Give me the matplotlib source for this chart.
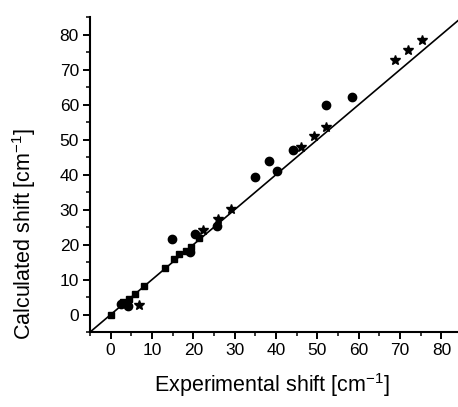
import matplotlib
matplotlib.use("Agg")
import matplotlib.pyplot as plt
from matplotlib.ticker import MultipleLocator

plt.rcParams['font.family'] = ['Liberation Sans', 'DejaVu Sans']

# squares (points lying on the diagonal)
sq_x = [0, 3.0, 4.5, 6.0, 8.0, 13.2, 15.4, 16.6, 18.2, 19.4, 21.3]
sq_y = [0, 3.5, 4.5, 6.0, 8.2, 13.4, 16.0, 17.3, 18.3, 19.4, 21.8]

# circles
ci_x = [2.6, 4.2, 14.8, 19.2, 20.5, 25.6, 34.9, 38.2, 40.2, 44.2, 52.1, 58.4]
ci_y = [3.0, 2.4, 21.7, 17.8, 23.0, 25.4, 39.2, 44.0, 41.0, 46.9, 59.9, 62.2]

# stars
st_x = [6.8, 22.3, 25.9, 29.2, 46.0, 49.2, 52.1, 68.7, 71.9, 75.3]
st_y = [2.8, 24.2, 27.3, 30.1, 47.9, 51.0, 53.6, 72.6, 75.7, 78.5]

fig = plt.figure(figsize=(4.58, 4.07), dpi=100)
ax = fig.add_axes([0.1965, 0.184, 0.8035, 0.774])

ax.plot([-5, 85], [-5, 85], color='black', linewidth=1.2, zorder=1)
ax.plot(sq_x, sq_y, 's', color='black', markersize=5, zorder=2)
ax.plot(ci_x, ci_y, 'o', color='black', markersize=6, zorder=2)
ax.plot(st_x, st_y, '*', color='black', markersize=7, zorder=2)

ax.set_xlim(-5, 84)
ax.set_ylim(-5, 85)
ax.xaxis.set_major_locator(MultipleLocator(10))
ax.xaxis.set_minor_locator(MultipleLocator(5))
ax.yaxis.set_major_locator(MultipleLocator(10))
ax.yaxis.set_minor_locator(MultipleLocator(5))

for s in ['top', 'right']:
    ax.spines[s].set_visible(False)
for s in ['left', 'bottom']:
    ax.spines[s].set_linewidth(1.5)

ax.tick_params(which='major', direction='out', length=5, width=1.4, labelsize=12.5, pad=3)
ax.tick_params(which='minor', direction='out', length=3, width=1.1)

ax.set_xlabel(r'Experimental shift [cm$^{\mathregular{-1}}$]', fontsize=15.5)
ax.set_ylabel(r'Calculated shift [cm$^{\mathregular{-1}}$]', fontsize=15.5)
ax.xaxis.set_label_coords(0.495, -0.125)
ax.yaxis.set_label_coords(-0.14, 0.31)

plt.savefig("out.png", dpi=100)
